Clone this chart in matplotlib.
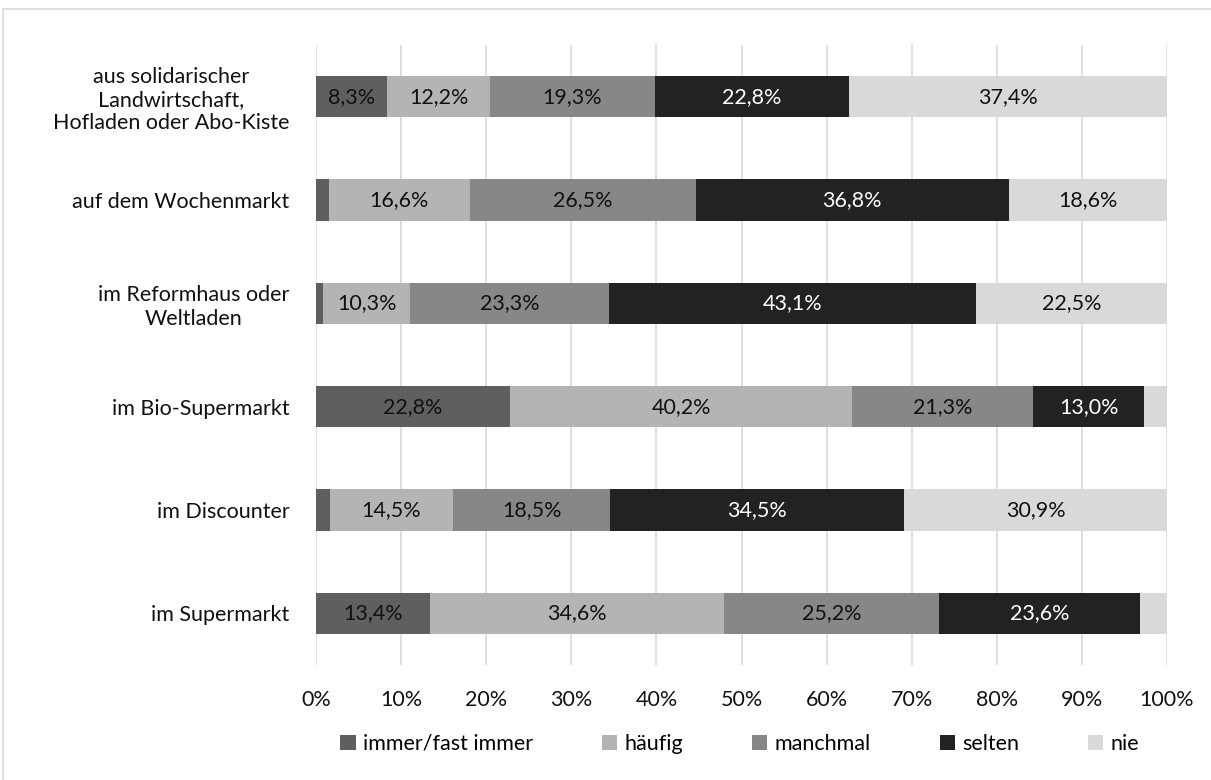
import matplotlib

matplotlib.use("Agg")
import matplotlib.pyplot as plt
from matplotlib.patches import Rectangle
from matplotlib.ticker import MultipleLocator, FuncFormatter

plt.rcParams["font.family"] = ["Lato", "DejaVu Sans"]

# Einkaufsorte von unten nach oben
orte = [
    "im Supermarkt",
    "im Discounter",
    "im Bio-Supermarkt",
    "im Reformhaus oder\nWeltladen",
    "auf dem Wochenmarkt",
    "aus solidarischer\nLandwirtschaft,\nHofladen oder Abo-Kiste",
]
kategorien = ["immer/fast immer", "häufig", "manchmal", "selten", "nie"]

immer = [13.4, 1.6, 22.8, 0.8, 1.5, 8.3]
haeufig = [34.6, 14.5, 40.2, 10.3, 16.6, 12.2]
manchmal = [25.2, 18.5, 21.3, 23.3, 26.5, 19.3]
selten = [23.6, 34.5, 13.0, 43.1, 36.8, 22.8]
nie = [3.2, 30.9, 2.7, 22.5, 18.6, 37.4]

farben = ["#5f5f5f", "#b4b4b4", "#878787", "#222222", "#d9d9d9"]
textfarben = ["#111111", "#111111", "#111111", "white", "#111111"]
fs = 15.5

fig = plt.figure(figsize=(12.11, 7.8), dpi=100)
ax = fig.add_axes([316 / 1211, 115 / 780, 851 / 1211, 620 / 780])

links = [0.0] * len(orte)
for serie, name, farbe, tf in zip([immer, haeufig, manchmal, selten, nie],
                                  kategorien, farben, textfarben):
    ax.barh(range(len(orte)), serie, left=links, height=0.4,
            color=farbe, label=name, zorder=3)
    for i, (v, l) in enumerate(zip(serie, links)):
        if v >= 5:
            ax.text(l + v / 2, i, f"{v:.1f}%".replace(".", ","),
                    ha="center", va="center", color=tf, fontsize=fs,
                    zorder=4)
    links = [l + v for l, v in zip(links, serie)]

ax.set_xlim(0, 100)
ax.set_ylim(-0.5, len(orte) - 0.5)
ax.xaxis.set_major_locator(MultipleLocator(10))
ax.xaxis.set_major_formatter(FuncFormatter(lambda x, _: f"{x:.0f}%"))
ax.grid(axis="x", color="#d9d9d9", linewidth=1.2, zorder=0)
ax.set_yticks(range(len(orte)))
ax.set_yticklabels(orte, multialignment="center")
ax.tick_params(length=0, labelsize=fs, colors="#111111")
ax.tick_params(axis="x", pad=18)
ax.tick_params(axis="y", pad=19)
for s in ax.spines.values():
    s.set_visible(False)

fig.legend(loc="center", bbox_to_anchor=(740 / 1211, 36 / 780), ncol=5,
           frameon=False, fontsize=fs, handlelength=0.7,
           handleheight=0.7, handletextpad=0.35, columnspacing=3.2)

# Rahmen um das Diagramm
fig.patches.append(Rectangle((3 / 1211, -0.01), 1.2, 1 - 9 / 780 + 0.01,
                             transform=fig.transFigure, fill=False,
                             edgecolor="#d9d9d9", linewidth=1.2))

fig.savefig("out.png", dpi=100)
